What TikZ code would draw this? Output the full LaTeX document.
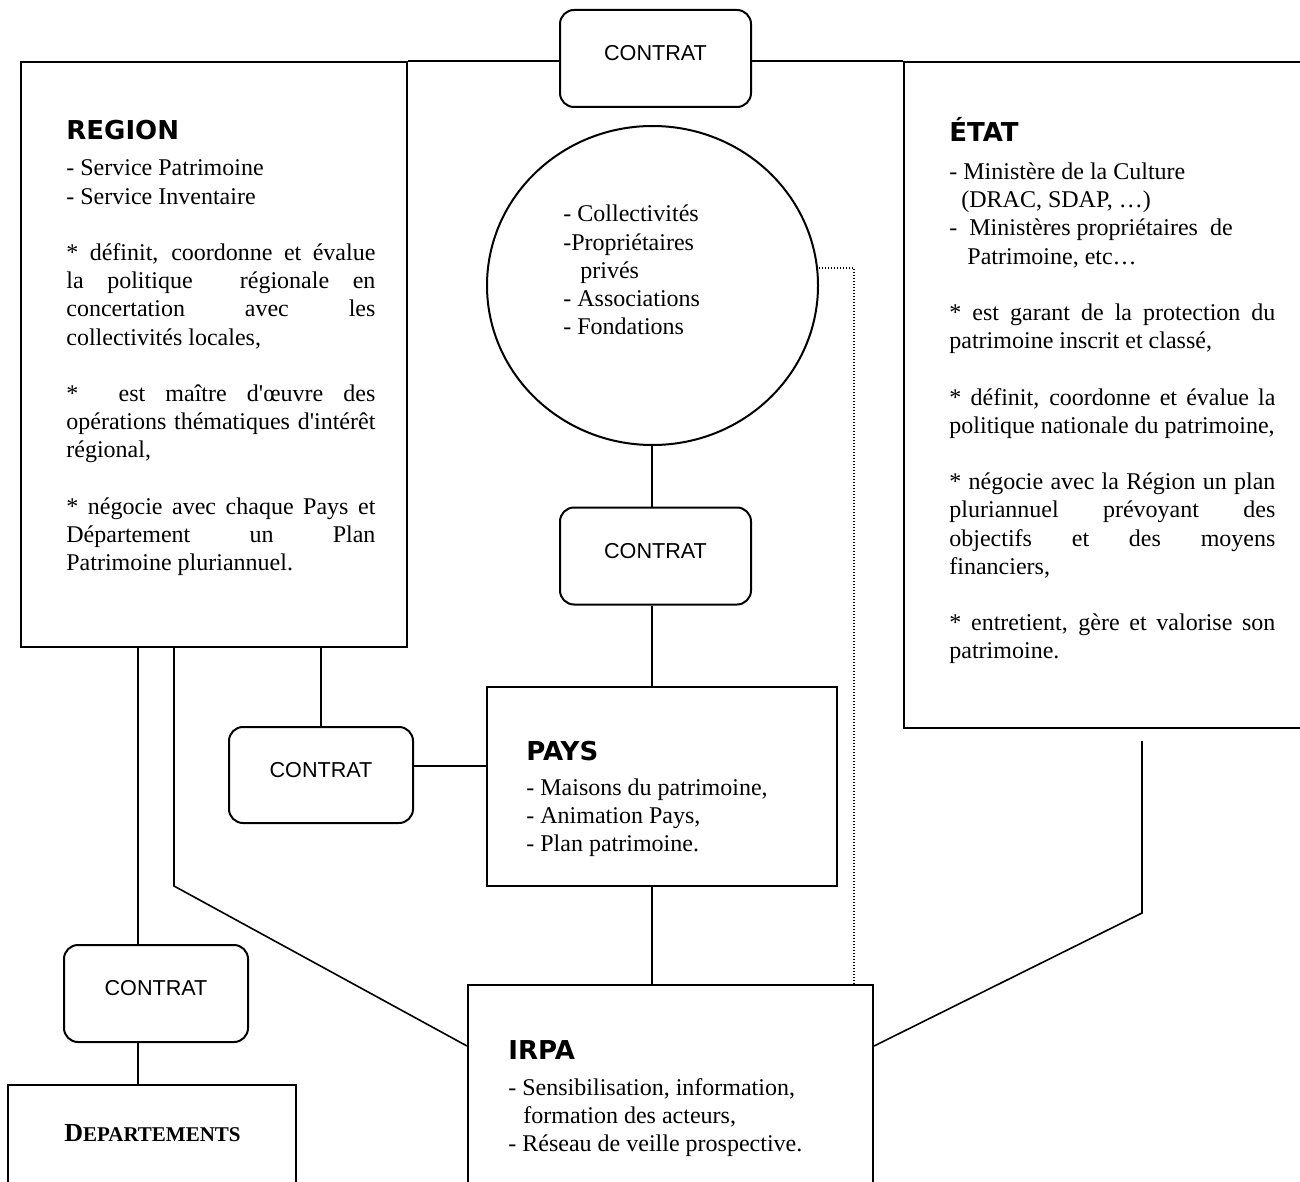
\documentclass[tikz,border=0pt]{standalone}
\usepackage{fontspec}
\setmainfont{Liberation Serif}
\newfontfamily\hdfont{DejaVu Sans}
\newfontfamily\ctfont{Liberation Sans}
\usetikzlibrary{shapes.geometric}
\newcommand\hd[1]{{\hdfont\bfseries\fontsize{13pt}{14pt}\selectfont #1}}
\newcommand\bodyfont{\fontsize{12pt}{14.1pt}\selectfont}
\newcommand\myJ[1]{\makebox[\linewidth][s]{#1}\par}
\newcommand\myL[1]{\mbox{#1}\par}
\newcommand\myB{\vspace{14.1pt}}
\newcommand\q{\textquotesingle}
\begin{document}
\begin{tikzpicture}[x=0.5pt,y=-0.5pt,
  box/.style={draw, line width=1pt, rectangle, inner sep=0},
  ctr/.style={draw, line width=1pt, rounded corners=7pt, rectangle, minimum width=95.5pt, minimum height=48.5pt,
    font=\ctfont\fontsize{10.8pt}{12pt}\selectfont, text height=7.7pt, text depth=5.7pt, inner sep=0},
  conn/.style={line width=0.8pt},
  dotl/.style={line width=0.6pt, dash pattern=on 0.6pt off 0.9pt},
  txt/.style={anchor=base west, inner sep=0}]
\useasboundingbox (0,0) rectangle (1300,1182);
\clip (0,0) rectangle (1300,1182);

% boxes
\node[box, minimum width=193pt, minimum height=292.5pt] (region) at (214,354.5) {};
\node[box, minimum width=208pt, minimum height=333pt] (etat) at (1112,395) {};
\node[box, minimum width=175pt, minimum height=99.5pt] (pays) at (662,786.5) {};
\node[box, minimum width=202.5pt, minimum height=107.5pt] (irpa) at (670.5,1092.5) {};
\node[box, minimum width=144pt, minimum height=57.5pt] (dept) at (152,1142.5) {};
\node[draw, line width=1pt, ellipse, inner sep=0, minimum width=165.5pt, minimum height=159.5pt] (circ) at (652.5,285.5) {};

% contrats
\node[ctr] (topc) at (655.5,58.5) {CONTRAT};
\node[ctr] (midc) at (655.5,556) {CONTRAT};
\node[ctr, minimum width=92pt, minimum height=48pt] (leftc) at (321,775) {CONTRAT};
\node[ctr, minimum width=92pt] (lowc) at (156,993.5) {CONTRAT};

% helper coordinates
\coordinate (axis) at (652,0);
\coordinate (lx) at (138,0);
\coordinate (bend1) at (174,886);
\coordinate (ja) at (0,1046);
\coordinate (e0) at (1142,741);
\coordinate (bend2) at (1142,913);
\coordinate (dotc) at (854,268);

% connectors
\draw[conn] (region.north east) -- (region.north east -| topc.west);
\draw[conn] (topc.east |- etat.north) -- (etat.north west);
\draw[conn] (axis |- circ.south) -- (axis |- midc.north);
\draw[conn] (axis |- midc.south) -- (axis |- pays.north);
\draw[conn] (axis |- pays.south) -- (axis |- irpa.north);
\draw[conn] (leftc.north |- region.south) -- (leftc.north);
\draw[conn] ([yshift=4.5pt]leftc.east) -- ([yshift=4.5pt]leftc.east -| pays.west);
\draw[conn] (lx |- region.south) -- (lx |- lowc.north);
\draw[conn] (lx |- lowc.south) -- (lx |- dept.north);
\draw[conn] (bend1 |- region.south) -- (bend1) -- (irpa.west |- ja);
\draw[conn] (e0) -- (bend2) -- (irpa.east |- ja);
\draw[dotl] (circ.east |- dotc) -- (dotc) -- (dotc |- irpa.north);

% texts
\node[txt] (regtxt) at (66,140) {\parbox[t]{154.5pt}{\bodyfont
\hd{REGION}\par\vspace{3.9pt}
\myL{- Service Patrimoine}
\myL{- Service Inventaire}
\myB
\myJ{* définit, coordonne et évalue}
\myJ{la politique\ \ régionale en}
\myJ{concertation avec les}
\myL{collectivités locales,}
\myB
\myJ{*\ \ est maître d\q{}œuvre des}
\myJ{opérations thématiques d\q{}intérêt}
\myL{régional,}
\myB
\myJ{* négocie avec chaque Pays et}
\myJ{Département un Plan}
\myL{Patrimoine pluriannuel.}}};

\node[txt] (etattxt) at (949,141.6) {\parbox[t]{163pt}{\bodyfont
\hd{ÉTAT}\par\vspace{4.9pt}
\myL{- Ministère de la Culture}
\myL{\hspace*{6pt}(DRAC, SDAP, …)}
\myL{-\hspace*{6pt}Ministères propriétaires\ \ de}
\myL{\hspace*{9pt}Patrimoine, etc…}
\myB
\myJ{* est garant de la protection du}
\myL{patrimoine inscrit et classé,}
\myB
\myJ{* définit, coordonne et évalue la}
\myL{politique nationale du patrimoine,}
\myB
\myJ{* négocie avec la Région un plan}
\myJ{pluriannuel prévoyant des}
\myJ{objectifs et des moyens}
\myL{financiers,}
\myB
\myJ{* entretient, gère et valorise son}
\myL{patrimoine.}}};

\node[txt] (circtxt) at (563,222) {\parbox[t]{110pt}{\bodyfont
\myL{- Collectivités}
\myL{-Propriétaires}
\myL{\hspace*{8.5pt}privés}
\myL{- Associations}
\myL{- Fondations}}};

\node[txt] (paystxt) at (526,760) {\parbox[t]{150pt}{\bodyfont
\hd{PAYS}\par\vspace{3.4pt}
\myL{- Maisons du patrimoine,}
\myL{- Animation Pays,}
\myL{- Plan patrimoine.}}};

\node[txt] (irpatxt) at (508,1059) {\parbox[t]{170pt}{\bodyfont
\hd{IRPA}\par\vspace{3.9pt}
\myL{- Sensibilisation, information,}
\myL{\hspace*{7.5pt}formation des acteurs,}
\myL{- Réseau de veille prospective.}}};

\node[anchor=base, inner sep=0, font=\bfseries] (depttxt) at (152.5,1141)
  {{\fontsize{13pt}{15pt}\selectfont D}{\fontsize{10.5pt}{12pt}\selectfont EPARTEMENTS}};
\end{tikzpicture}
\end{document}
